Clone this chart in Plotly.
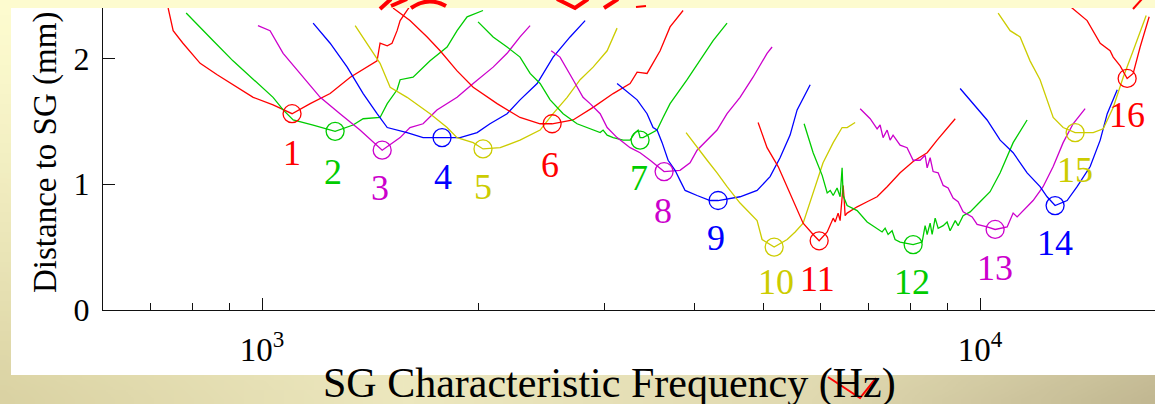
import math, zlib, struct, base64
import plotly.graph_objects as go

# ---------------- data (frequency in Hz, distance in mm) ----------------
f1 = [740, 752, 776, 820, 866, 911, 972, 1036, 1101, 1167, 1244, 1327, 1446, 1460, 1494, 1517, 1542, 1557, 1592, 1618]
d1 = [2.40, 2.22, 2.12, 1.96, 1.87, 1.79, 1.69, 1.63, 1.56, 1.64, 1.72, 1.85, 1.98, 2.12, 2.10, 2.12, 2.22, 2.30, 2.38, 2.44]
f2 = [784, 820, 855, 911, 972, 1036, 1070, 1105, 1178, 1264, 1339, 1383, 1460, 1494, 1542, 1557, 1623, 1714, 1810, 1869, 1930, 2031]
d2 = [2.36, 2.25, 2.14, 1.98, 1.83, 1.69, 1.59, 1.51, 1.47, 1.42, 1.47, 1.52, 1.53, 1.64, 1.75, 1.83, 1.85, 1.98, 2.09, 2.22, 2.33, 2.38]
f3 = [987, 1026, 1070, 1130, 1205, 1284, 1369, 1470, 1557, 1607, 1676, 1752, 1869, 1968, 2098, 2194, 2287, 2362]
d3 = [2.26, 2.22, 2.04, 1.88, 1.69, 1.56, 1.43, 1.27, 1.37, 1.45, 1.48, 1.59, 1.69, 1.80, 1.93, 2.04, 2.17, 2.26]
f4 = [1178, 1244, 1314, 1383, 1446, 1494, 1592, 1676, 1781, 1887, 1993, 2077, 2194, 2287, 2416, 2543, 2685, 2818]
d4 = [2.28, 2.12, 1.93, 1.72, 1.56, 1.45, 1.41, 1.37, 1.37, 1.37, 1.41, 1.48, 1.56, 1.67, 1.80, 2.01, 2.17, 2.30]
f5 = [1348, 1400, 1460, 1508, 1592, 1714, 1810, 1869, 1968, 2031, 2146, 2287, 2439, 2543, 2660, 2773, 2891, 3024, 3122]
d5 = [2.26, 2.12, 1.96, 1.77, 1.69, 1.56, 1.45, 1.37, 1.33, 1.28, 1.29, 1.35, 1.43, 1.56, 1.69, 1.83, 1.93, 2.06, 2.24]
f6 = [1522, 1607, 1698, 1770, 1869, 1968, 2125, 2287, 2439, 2535, 2711, 2891, 3083, 3255, 3329, 3437, 3584, 3700, 3858]
d6 = [2.40, 2.30, 2.17, 2.06, 1.90, 1.77, 1.64, 1.53, 1.48, 1.48, 1.51, 1.61, 1.72, 1.80, 1.89, 1.88, 2.06, 2.25, 2.38]
f7 = [1999, 2098, 2194, 2287, 2362, 2439, 2519, 2626, 2746, 2863, 2957, 2985, 3024, 3083, 3183, 3255, 3307, 3340, 3361, 3393, 3448, 3549, 3618, 3700, 3908, 4074, 4248, 4442]
d7 = [2.29, 2.17, 2.09, 2.01, 1.88, 1.80, 1.67, 1.56, 1.48, 1.44, 1.41, 1.43, 1.39, 1.37, 1.35, 1.35, 1.41, 1.43, 1.37, 1.37, 1.39, 1.43, 1.53, 1.64, 1.83, 1.98, 2.14, 2.28]
f8 = [2527, 2600, 2711, 2799, 2863, 2957, 3024, 3122, 3255, 3361, 3471, 3630, 3820, 3945, 4035, 4167, 4302, 4442, 4631, 4828, 5050, 5132]
d8 = [2.06, 2.01, 1.83, 1.69, 1.64, 1.56, 1.45, 1.37, 1.29, 1.25, 1.19, 1.10, 1.11, 1.17, 1.27, 1.35, 1.43, 1.56, 1.69, 1.85, 2.04, 2.09]
f9 = [3122, 3183, 3329, 3437, 3504, 3549, 3607, 3677, 3760, 3820, 3883, 4035, 4207, 4316, 4631, 4891, 5099, 5265, 5437, 5561, 5705, 5799]
d9 = [1.80, 1.76, 1.67, 1.56, 1.45, 1.43, 1.33, 1.19, 1.11, 1.03, 0.95, 0.91, 0.87, 0.87, 0.90, 0.95, 1.06, 1.21, 1.39, 1.59, 1.71, 1.79]
f10 = [3895, 4035, 4167, 4302, 4442, 4631, 4891, 4970, 5166, 5386, 5526, 5669, 5854, 6043, 6243, 6424, 6528, 6698]
d10 = [1.41, 1.29, 1.19, 1.09, 0.98, 0.85, 0.71, 0.56, 0.50, 0.56, 0.62, 0.69, 0.94, 1.17, 1.33, 1.45, 1.45, 1.49]
f11 = [4907, 5050, 5233, 5437, 5669, 5854, 5968, 6124, 6184, 6243, 6282, 6342, 6383, 6424, 6445, 6465, 6486, 6528, 6741, 6961, 7187, 7422, 7737, 8067, 8438, 8712, 8995, 9233]
d11 = [1.49, 1.29, 1.14, 0.93, 0.69, 0.60, 0.55, 0.62, 0.68, 0.73, 0.70, 0.77, 0.71, 0.91, 0.99, 0.89, 0.75, 0.77, 0.82, 0.86, 0.90, 0.98, 1.09, 1.18, 1.25, 1.35, 1.44, 1.52]
f12 = [5687, 5854, 6026, 6124, 6184, 6243, 6321, 6383, 6424, 6445, 6528, 6741, 6961, 7187, 7303, 7374, 7445, 7540, 7613, 7737, 8067, 8303, 8383, 8438, 8519, 8574, 8657, 8741, 8883, 8995, 9082, 9233, 9319, 9469, 9685, 10000, 10325, 10664, 11117, 11626]
d12 = [1.48, 1.25, 1.07, 0.93, 0.95, 0.91, 0.97, 0.90, 1.13, 0.91, 0.83, 0.79, 0.70, 0.65, 0.62, 0.65, 0.60, 0.63, 0.56, 0.54, 0.52, 0.54, 0.67, 0.60, 0.69, 0.60, 0.73, 0.65, 0.67, 0.70, 0.63, 0.71, 0.67, 0.75, 0.78, 0.86, 0.94, 1.09, 1.33, 1.51]
f13 = [6807, 7029, 7187, 7256, 7326, 7422, 7493, 7564, 7737, 7912, 8067, 8249, 8383, 8438, 8519, 8601, 8741, 8883, 9024, 9170, 9319, 9469, 9748, 9904, 10226, 10493, 10905, 11117, 11260, 11478, 11851, 12237, 12640, 13050, 13473, 14004]
d13 = [1.60, 1.52, 1.44, 1.47, 1.37, 1.43, 1.35, 1.39, 1.31, 1.29, 1.19, 1.19, 1.23, 1.13, 1.21, 1.10, 1.09, 0.99, 0.97, 0.89, 0.86, 0.78, 0.74, 0.68, 0.66, 0.64, 0.66, 0.77, 0.74, 0.79, 0.87, 0.98, 1.14, 1.33, 1.48, 1.60]
f14 = [9379, 9777, 10226, 10664, 11117, 11626, 12120, 12395, 12718, 13217, 13648, 14232, 14697, 15032, 15523]
d14 = [1.76, 1.64, 1.51, 1.35, 1.25, 1.09, 0.98, 0.90, 0.83, 0.87, 0.98, 1.14, 1.35, 1.56, 1.75]
f15 = [10595, 11010, 11368, 11736, 12120, 12395, 12640, 13050, 13561, 14371, 14840, 15323, 15822, 16336, 17032]
d15 = [2.36, 2.22, 2.17, 1.98, 1.83, 1.67, 1.53, 1.45, 1.41, 1.41, 1.44, 1.61, 1.85, 2.06, 2.34]
f16 = [13300, 14093, 14697, 15170, 15323, 15668, 16023, 16336, 16705, 17196]
d16 = [2.42, 2.30, 2.12, 2.06, 2.01, 1.94, 1.84, 1.88, 2.09, 2.33]

best_freq = [1101, 1264, 1470, 1781, 2031, 2535, 3361, 3630, 4316, 5166, 5968, 8067, 10493, 12718, 13561, 16023]
best_dist = [1.56, 1.42, 1.27, 1.37, 1.28, 1.48, 1.35, 1.10, 0.87, 0.50, 0.55, 0.52, 0.64, 0.83, 1.41, 1.84]

label_text = [str(i) for i in range(1, 17)]
label_freq = [1101, 1256, 1460, 1787, 2031, 2519, 3350, 3618, 4289, 5198, 5929, 8039, 10493, 12718, 13561, 16023]
label_dist = [1.25, 1.10, 0.97, 1.06, 0.98, 1.15, 1.05, 0.79, 0.57, 0.22, 0.25, 0.22, 0.33, 0.53, 1.11, 1.55]

x_tick_vals = [1000, 10000]
x_tick_text = ["10<sup>3</sup>", "10<sup>4</sup>"]
x_minor_vals = [700, 800, 900, 2000, 3000, 4000, 5000, 6000, 7000, 8000, 9000]
y_tick_vals = [0, 1, 2]

palette = ["#ff0000", "#00cc00", "#cc00cc", "#0000ff", "#cccc00"]

freqs = [f1, f2, f3, f4, f5, f6, f7, f8, f9, f10, f11, f12, f13, f14, f15, f16]
dists = [d1, d2, d3, d4, d5, d6, d7, d8, d9, d10, d11, d12, d13, d14, d15, d16]
colors = [palette[i % 5] for i in range(16)]

# ---------------- layout geometry (pixels) ----------------
W, H = 1155, 404
ML, MR, MT, MB = 103, 0, 8, 94
PW, PH = W - ML - MR, H - MT - MB


def px(xp):
    return (xp - ML) / PW


def py(yp):
    return (H - MB - yp) / PH


# ---------------- background gradient image ----------------
def lerp(a, b, t):
    return tuple(a[k] + (b[k] - a[k]) * t for k in range(3))


top_col = (253, 251, 207)
bottom_stops = [(0.0, (218, 210, 163)), (0.35, (236, 231, 190)), (0.7, (224, 217, 176)), (1.0, (194, 184, 146))]


def bg_pixel(u, v):
    for i in range(len(bottom_stops) - 1):
        u0, c0 = bottom_stops[i]
        u1, c1 = bottom_stops[i + 1]
        if u0 <= u <= u1:
            bc = lerp(c0, c1, (u - u0) / (u1 - u0))
            break
    c = lerp(top_col, bc, v ** 1.3)
    return [int(round(x)) for x in c]


def png_uri(w, h):
    rows = []
    for j in range(h):
        row = bytearray([0])
        for i in range(w):
            row.extend(bg_pixel(i / (w - 1), j / (h - 1)))
        rows.append(bytes(row))
    raw = b"".join(rows)

    def chunk(tag, data):
        c = struct.pack(">I", len(data)) + tag + data
        return c + struct.pack(">I", zlib.crc32(tag + data) & 0xffffffff)

    png = (b"\x89PNG\r\n\x1a\n" + chunk(b"IHDR", struct.pack(">IIBBBBB", w, h, 8, 2, 0, 0, 0))
           + chunk(b"IDAT", zlib.compress(raw)) + chunk(b"IEND", b""))
    return "data:image/png;base64," + base64.b64encode(png).decode()


fig = go.Figure()

for f, d, c in zip(freqs, dists, colors):
    fig.add_trace(go.Scatter(x=f, y=d, mode="lines", line=dict(color=c, width=1.3),
                             hoverinfo="skip", showlegend=False))

fig.add_trace(go.Scatter(x=best_freq, y=best_dist, mode="markers",
                         marker=dict(symbol="circle-open", size=18, color=colors,
                                     line=dict(color=colors, width=1.3)),
                         showlegend=False, hoverinfo="skip"))

serif = "Liberation Serif"

annotations = []
for t, f, d, c in zip(label_text, label_freq, label_dist, colors):
    annotations.append(dict(x=math.log10(f), y=d, xref="x", yref="y", text=t, showarrow=False,
                            font=dict(family=serif, size=36, color=c), xanchor="center", yanchor="middle"))

annotations.append(dict(x=px(609), y=py(383), xref="paper", yref="paper",
                        text="SG Characteristic Frequency (Hz)", showarrow=False,
                        font=dict(family=serif, size=42, color="black"), xanchor="center", yanchor="middle"))
annotations.append(dict(x=px(45), y=py(153), xref="paper", yref="paper", textangle=-90,
                        text="Distance to SG (mm)", showarrow=False,
                        font=dict(family=serif, size=33, color="black"), xanchor="center", yanchor="middle"))

shapes = [dict(type="rect", xref="paper", yref="paper", x0=px(11), x1=px(1155), y0=py(375), y1=py(8),
               fillcolor="white", line=dict(width=0), layer="below")]


def path(pts, curve=False):
    s = "M %.5f %.5f" % (px(pts[0][0]), py(pts[0][1]))
    if curve:
        s += " Q %.5f %.5f %.5f %.5f" % (px(pts[1][0]), py(pts[1][1]), px(pts[2][0]), py(pts[2][1]))
    else:
        for p in pts[1:]:
            s += " L %.5f %.5f" % (px(p[0]), py(p[1]))
    return s


deco = [
    ([(380, 9), (391, -1)], False, 4),
    ([(391, 6), (407, -1)], False, 4),
    ([(411, 8), (428, -4), (446, 6)], True, 4),
    ([(557, -1), (575, 8), (588, -1)], False, 4),
    ([(604, 8), (618, -1)], False, 4),
    ([(636, 7), (646, 6)], False, 2),
    ([(1133, 9), (1142, -1)], False, 2),
    ([(828, 377), (860, 398), (876, 378)], False, 2),
]
for pts, cv, w in deco:
    shapes.append(dict(type="path", xref="paper", yref="paper", path=path(pts, cv),
                       line=dict(color="#ff0000", width=w), layer="above"))

fig.update_layout(
    width=W, height=H,
    margin=dict(l=ML, r=MR, t=MT, b=MB, pad=0),
    paper_bgcolor="#ebe6bc",
    plot_bgcolor="rgba(0,0,0,0)",
    showlegend=False,
    annotations=annotations,
    shapes=shapes,
    font=dict(family=serif),
    images=[dict(source=png_uri(116, 41), xref="paper", yref="paper", x=px(0), y=py(0),
                 sizex=W / PW, sizey=H / PH, sizing="stretch", xanchor="left", yanchor="top",
                 layer="below")],
    xaxis=dict(type="log", range=[math.log10(600.5), math.log10(17520)],
               showgrid=False, zeroline=False, showline=True, linecolor="#111", linewidth=1.2,
               ticks="inside", ticklen=12, tickwidth=1.2, tickcolor="#111",
               tickmode="array", tickvals=x_tick_vals, ticktext=x_tick_text,
               tickfont=dict(family=serif, size=33, color="black"),
               ticklabelstandoff=10,
               minor=dict(tickmode="array", tickvals=x_minor_vals, ticks="inside", ticklen=7,
                          tickwidth=1.2, tickcolor="#111", showgrid=False)),
    yaxis=dict(range=[0, 2.4], showgrid=False, zeroline=False, showline=True,
               linecolor="#111", linewidth=1.2, ticks="inside", ticklen=12, tickwidth=1.2,
               tickcolor="#111", tickmode="array", tickvals=y_tick_vals,
               tickfont=dict(family=serif, size=32, color="black"), ticklabelstandoff=6),
)

fig.write_html("out.html", config={"displayModeBar": False},
               post_script="document.body.style.margin='0px';document.body.style.overflow='hidden';")
